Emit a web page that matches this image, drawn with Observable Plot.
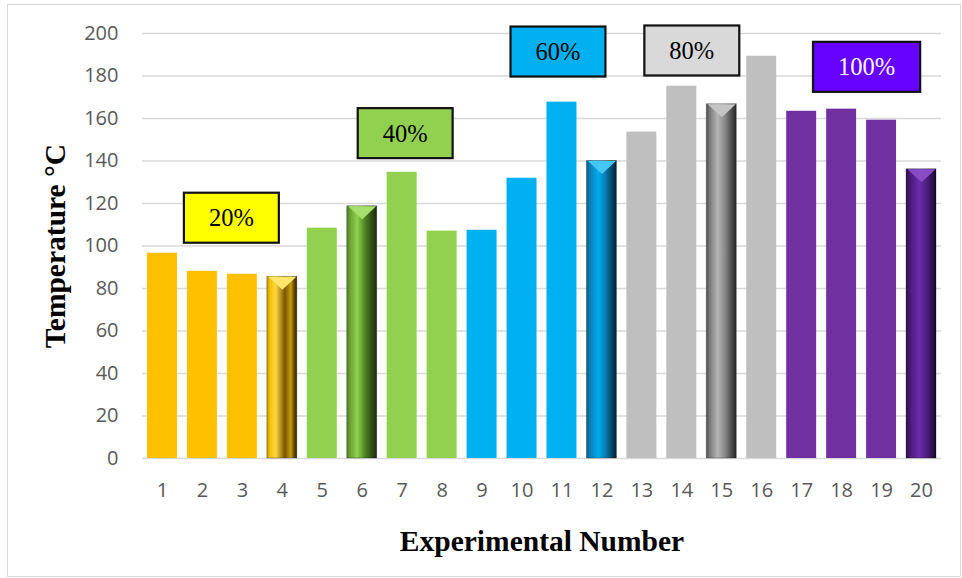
<!DOCTYPE html>
<html><head><meta charset="utf-8">
<script src="https://cdn.jsdelivr.net/npm/d3@7"></script>
<script src="https://cdn.jsdelivr.net/npm/@observablehq/plot@0.6"></script>
<style>
html,body{margin:0;padding:0;background:#fff;}
#chart{position:relative;width:962px;height:578px;overflow:hidden;}
#frame{position:absolute;left:7px;top:4px;width:954px;height:573px;border:1.5px solid #d9d9d9;box-sizing:border-box;pointer-events:none}
</style></head><body>
<div id="chart"><div id="frame"></div></div>
<script>
// ---- data ----
const experiments = ["1","2","3","4","5","6","7","8","9","10","11","12","13","14","15","16","17","18","19","20"];
const temperatures = [96.6, 88.1, 86.7, 85.5, 108.4, 118.7, 134.7, 107.0, 107.4, 131.9, 167.7, 140.0, 153.6, 175.2, 166.7, 189.3, 163.4, 164.4, 159.2, 136.1];
const groups = ["20%","20%","20%","20%","40%","40%","40%","40%","60%","60%","60%","60%","80%","80%","80%","80%","100%","100%","100%","100%"];
const beveled = ["4","6","12","15","20"];
const yTicks = [0,20,40,60,80,100,120,140,160,180,200];
const boxLabels = ["20%","40%","60%","80%","100%"];
const boxAt = ["3","7","11","14","19"];
const boxY = [113, 152.8, 191.2, 191.7, 184];
const xTitle = "Experimental Number";
const yTitle = "Temperature °C";

// ---- styles ----
const groupColor = {"20%":"#FFC000","40%":"#92D050","60%":"#00B0F0","80%":"#BFBFBF","100%":"#7030A0"};
const bevelTop = {"20%":"#ffe56a","40%":"#a8e070","60%":"#45c6f4","80%":"#c4c4c4","100%":"#8a4cc6"};
const bevelStops = {
  "20%": [[0,"#b88d00"],[0.1,"#f2c200"],[0.3,"#ffd640"],[0.6,"#7a5600"],[0.8,"#c99b10"],[0.92,"#5e4300"],[1,"#3a2900"]],
  "40%": [[0,"#4d7a22"],[0.12,"#6ea436"],[0.35,"#90d24e"],[0.62,"#4e8022"],[0.85,"#2c4a12"],[1,"#182a06"]],
  "60%": [[0,"#0a5c88"],[0.15,"#0a86bd"],[0.4,"#00acec"],[0.65,"#0a78ad"],[0.88,"#053e5c"],[1,"#021f30"]],
  "80%": [[0,"#505050"],[0.12,"#7c7c7c"],[0.38,"#b4b4b4"],[0.62,"#8a8a8a"],[0.86,"#474747"],[1,"#262626"]],
  "100%":[[0,"#2c0f4e"],[0.15,"#4a1c7c"],[0.45,"#6c2cab"],[0.7,"#4c1d80"],[0.9,"#2a0e48"],[1,"#17052a"]]
};
const boxFill = ["#FFFF00","#92D050","#00B0F0","#D9D9D9","#6600FF"];
const boxText = ["#000","#000","#000","#000","#fff"];
const boxDx = [-11, 3, -4, 10, -15];
const gid = g => "bev" + g.replace("%","");

const bars = experiments.map((n,i) => ({n, t: temperatures[i], g: groups[i], bev: beveled.includes(n)}));
const boxes = boxLabels.map((l,i) => ({l, x: boxAt[i], y: boxY[i], i}));
const bevelSymbol = {draw(c){ c.moveTo(-14,-6.5); c.lineTo(14,-6.5); c.lineTo(0,6.5); c.closePath(); }};

const chart = Plot.plot({
  width: 962, height: 578,
  marginLeft: 142, marginRight: 21, marginTop: 33, marginBottom: 120,
  style: {background: "transparent", color: "#595959", fontFamily: "'Open Sans', sans-serif"},
  x: {type: "band", domain: experiments, paddingInner: 0.25, paddingOuter: 0.125, round: false},
  y: {domain: [0, 200]},
  color: {type: "identity"},
  marks: [
    Plot.gridY(yTicks, {stroke: "#d9d9d9", strokeOpacity: 1, strokeWidth: 1.5}),
    Plot.barY(bars, {x: "n", y: "t", fill: d => d.bev ? `url(#${gid(d.g)})` : groupColor[d.g],
      stroke: d => d.bev ? "#00000055" : "none", strokeWidth: 0.8}),
    Plot.dot(bars.filter(d => d.bev), {x: "n", y: "t", dy: 6.5, symbol: bevelSymbol, fill: d => bevelTop[d.g], stroke: "none", r: 5}),
    Plot.axisY(yTicks, {tickSize: 0, tickPadding: 24, fontSize: 20, label: yTitle, labelAnchor: "center", labelOffset: 98, labelArrow: false}),
    Plot.axisX({tickSize: 0, tickPadding: 24, fontSize: 20, label: xTitle, labelAnchor: "center", labelOffset: 92, labelArrow: false}),
    Plot.text(boxes, {x: "x", y: "y", text: "l", fill: d => boxText[d.i], fontFamily: "'Liberation Serif', 'Times New Roman', serif", fontSize: 24.5})
  ]
});
document.getElementById("chart").prepend(chart);

// gradients
const svg = d3.select(chart);
const defs = svg.insert("defs", ":first-child");
for (const g of Object.keys(bevelStops)) {
  const lg = defs.append("linearGradient").attr("id", gid(g)).attr("x1", 0).attr("x2", 1).attr("y1", 0).attr("y2", 0);
  for (const [o, c] of bevelStops[g]) lg.append("stop").attr("offset", o).attr("stop-color", c);
}
// axis titles
svg.selectAll('g[aria-label="x-axis label"] text, g[aria-label="y-axis label"] text')
  .attr("fill", "#000").style("font-family", "'Liberation Serif', 'Times New Roman', serif")
  .style("font-weight", "bold").style("font-size", "29.5px");
// label boxes
svg.selectAll('g[aria-label="text"] text').each(function(d, k) {
  const t = d3.select(this);
  t.attr("transform", (t.attr("transform") || "") + ` translate(${boxDx[k]},0)`);
  const b = this.getBBox();
  const w = b.width + 50, h = 50;
  d3.select(this.parentNode).insert("rect", () => this)
    .attr("transform", t.attr("transform"))
    .attr("x", b.x + b.width/2 - w/2).attr("y", b.y + b.height/2 - h/2)
    .attr("width", w).attr("height", h)
    .attr("fill", boxFill[k]).attr("stroke", "#111").attr("stroke-width", 2.2);
});
</script>
</body></html>
